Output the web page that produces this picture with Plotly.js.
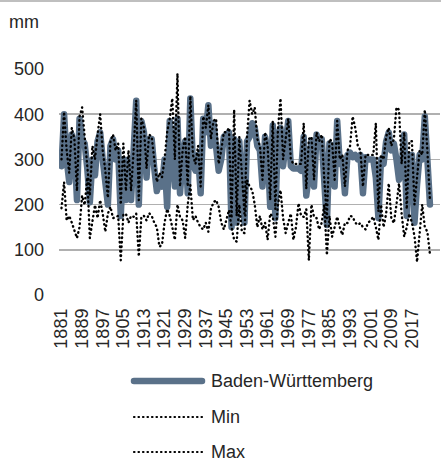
<!DOCTYPE html>
<html>
<head>
<meta charset="utf-8">
<script src="https://cdn.plot.ly/plotly-3.0.1.min.js"></script>
<style>
  html, body { margin: 0; padding: 0; background: #ffffff; }
  #chart { width: 441px; height: 461px; }
  .js-line { stroke-linecap: round !important; stroke-linejoin: round !important; }
  .shapelayer path { stroke-linecap: round !important; }
</style>
</head>
<body>
<div id="chart"></div>
<script>
// ---- data ----
var firstYear = 1881;
var lastYear = 2024;

var bwValues = [
  285,400,300,250,355,330,210,390,345,335,
  280,205,300,265,340,360,300,250,200,330,
  345,300,320,175,300,210,300,210,300,430,
  200,385,360,260,345,345,280,230,250,240,
  300,195,385,300,240,390,225,300,340,225,
  435,290,275,310,225,390,360,420,330,380,
  330,275,300,350,355,360,150,345,160,340,
  250,160,340,350,380,370,330,320,240,350,
  320,195,375,170,355,370,285,340,385,285,
  280,280,280,275,350,220,265,342,240,355,
  330,345,240,155,335,330,240,385,290,300,
  225,310,315,305,310,300,310,225,305,300,
  300,300,260,170,300,290,340,360,320,335,
  300,255,280,355,175,310,310,160,245,310,
  300,395,300,200
];

var minValues = [
  192,250,165,175,160,145,126,150,220,199,
  260,126,160,199,170,210,180,140,180,195,
  170,173,175,77,177,180,160,175,173,180,
  85,173,175,165,181,175,160,150,107,111,
  160,190,175,150,122,200,173,165,126,200,
  243,166,175,160,150,145,160,140,190,205,
  210,195,160,145,170,188,150,122,118,200,
  140,137,254,240,232,200,150,175,145,160,
  122,180,173,129,200,232,170,137,160,180,
  122,150,203,175,173,190,77,200,173,170,
  145,160,200,88,175,129,150,173,150,133,
  160,159,175,173,160,155,159,150,145,160,
  165,173,150,122,200,150,180,247,170,159,
  200,247,180,129,150,180,160,130,73,137,
  200,150,140,90
];

var maxValues = [
  300,405,320,270,370,345,230,395,415,350,
  300,220,330,300,355,400,320,275,215,340,
  355,320,335,200,335,230,320,230,320,430,
  210,390,370,280,355,350,300,250,270,260,
  300,360,390,435,300,490,240,320,350,240,
  440,310,290,330,240,395,370,420,345,385,
  390,290,320,360,360,370,170,410,175,350,
  270,180,350,430,400,415,345,330,255,360,
  330,210,385,190,365,435,300,350,390,300,
  290,290,290,290,380,235,345,350,255,360,
  340,355,255,170,345,340,255,385,300,310,
  240,320,330,395,370,330,320,240,310,310,
  310,310,380,185,310,300,350,370,330,345,
  415,410,290,360,190,340,340,200,260,320,
  310,410,320,210
];

var tickYears = [1881,1889,1897,1905,1913,1921,1929,1937,1945,1953,1961,1969,1977,1985,1993,2001,2009,2017];
var tickLabels = ["1881","1889","1897","1905","1913","1921","1929","1937","1945","1953","1961","1969","1977","1985","1993","2001","2009","2017"];

var seriesNames = ["Baden-Württemberg", "Min", "Max"];
var unitLabel = "mm";

// ---- build ----
var years = [];
for (var y = firstYear; y <= lastYear; y++) years.push(y);

var bwColor = "#5a7189";
var font = "Liberation Sans, Arial, sans-serif";
var textColor = "#262626";
var fs = 18;

var traces = [
  { x: years, y: bwValues, name: seriesNames[0], type: "scatter", mode: "lines",
    line: { color: bwColor, width: 6.5 }, showlegend: false, hoverinfo: "skip" },
  { x: years, y: minValues, name: seriesNames[1], type: "scatter", mode: "lines",
    line: { color: "#000000", width: 2.4, dash: "0.5px,4px" }, showlegend: false, hoverinfo: "skip" },
  { x: years, y: maxValues, name: seriesNames[2], type: "scatter", mode: "lines",
    line: { color: "#000000", width: 2.4, dash: "0.5px,4px" }, showlegend: false, hoverinfo: "skip" }
];

// plot area: left 59, right 440, top 69, bottom 295
var L = 59, R = 440, T = 69, B = 295;
var W = R - L, H = B - T;
function px(xp) { return (xp - L) / W; }
function py(yp) { return (B - yp) / H; }

var legendRows = [381, 417, 452];
var shapes = [
  { type: "line", xref: "paper", yref: "paper", x0: px(0), x1: px(441), y0: py(1), y1: py(1),
    line: { color: "#bfbfbf", width: 2 } },
  { type: "line", xref: "paper", yref: "paper", x0: px(134), x1: px(202), y0: py(legendRows[0]), y1: py(legendRows[0]),
    line: { color: bwColor, width: 6.5 } },
  { type: "line", xref: "paper", yref: "paper", x0: px(134), x1: px(202), y0: py(legendRows[1]), y1: py(legendRows[1]),
    line: { color: "#000000", width: 2.2, dash: "0.5px,4px" } },
  { type: "line", xref: "paper", yref: "paper", x0: px(134), x1: px(202), y0: py(legendRows[2]), y1: py(legendRows[2]),
    line: { color: "#000000", width: 2.2, dash: "0.5px,4px" } }
];

var annotations = [
  { text: unitLabel, xref: "paper", yref: "paper", x: px(7), y: py(22), xanchor: "left", yanchor: "middle",
    showarrow: false, font: { family: font, size: fs, color: textColor } }
];
for (var i = 0; i < 3; i++) {
  annotations.push({ text: seriesNames[i], xref: "paper", yref: "paper", x: px(209), y: py(legendRows[i]),
    xanchor: "left", yanchor: "middle", showarrow: false, font: { family: font, size: fs, color: textColor } });
}

var layout = {
  width: 441, height: 461,
  margin: { l: L, r: 441 - R, t: T, b: 461 - B, pad: 0 },
  paper_bgcolor: "#ffffff", plot_bgcolor: "#ffffff",
  showlegend: false,
  font: { family: font, size: fs, color: textColor },
  xaxis: {
    type: "linear",
    range: [1880.03, 2027.9],
    tickmode: "array", tickvals: tickYears, ticktext: tickLabels,
    tickangle: -90, ticks: "", showgrid: false, zeroline: false, showline: false,
    ticklabelstandoff: 9,
    tickfont: { family: font, size: fs, color: textColor },
    fixedrange: true
  },
  yaxis: {
    range: [0, 500], dtick: 100, tick0: 0,
    showgrid: true, gridcolor: "#b0b0b0", gridwidth: 1.5,
    zeroline: false, showline: false, ticks: "",
    ticklabelstandoff: 14,
    tickfont: { family: font, size: fs, color: textColor },
    fixedrange: true
  },
  shapes: shapes,
  annotations: annotations
};

Plotly.newPlot("chart", traces, layout, { displayModeBar: false, staticPlot: true });
</script>
</body>
</html>
